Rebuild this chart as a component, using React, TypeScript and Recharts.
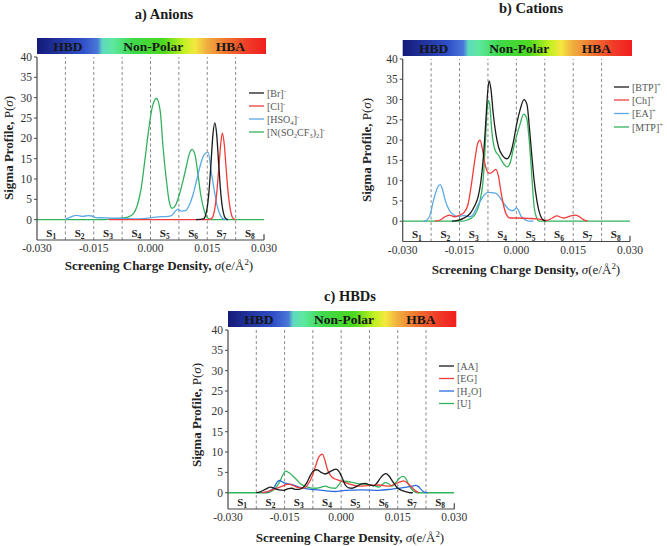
import React from 'react';
import { LineChart, Line, XAxis, YAxis, ReferenceLine, ReferenceArea } from 'recharts';

type Pt = [number, number];
type Seg = { t: string; s?: 'sub' | 'sup'; i?: boolean; w?: 'normal' | 'bold' };

// sigma (e/Å²), P(sigma) pairs

// a) anions
const anionBr: Pt[] = [
  [0.012, 0], [0.014, 0.2], [0.0145, 0.9], [0.015, 3], [0.0155, 7.4], [0.016, 14], [0.0165, 20.9],
  [0.017, 23.8], [0.0175, 20.9], [0.018, 14], [0.0185, 7.4], [0.019, 3], [0.0195, 0.9], [0.02, 0.2], [0.0205, 0],
];
const anionCl: Pt[] = [
  [-0.011, 0], [0.0155, 0], [0.016, 0.2], [0.0165, 0.8], [0.017, 2.7], [0.0175, 6.5], [0.018, 12], [0.0185, 18],
  [0.019, 21.3], [0.0195, 18.5], [0.02, 12.5], [0.0205, 6.8], [0.021, 3], [0.0215, 0.9], [0.022, 0.2], [0.0225, 0],
];
const anionHSO4: Pt[] = [
  [-0.0225, 0], [-0.021, 0.7], [-0.0195, 1.05], [-0.018, 0.8], [-0.0165, 1.0], [-0.0155, 0.9], [-0.0145, 0.5],
  [-0.012, 0.45], [-0.009, 0.35], [-0.006, 0.25], [-0.003, 0.2], [0, 0.45], [0.002, 0.7], [0.004, 0.75],
  [0.0055, 1.0], [0.0065, 2.0], [0.0073, 2.6], [0.0082, 2.1], [0.0092, 2.2], [0.0102, 3.5], [0.0112, 6],
  [0.0122, 9.7], [0.0132, 13.5], [0.0142, 16], [0.0152, 16.6], [0.0161, 11.5], [0.0168, 7.5], [0.0176, 3.5],
  [0.0185, 1], [0.0195, 0.1], [0.0205, 0],
];
const anionTf2N: Pt[] = [
  [-0.03, 0], [-0.012, 0], [-0.0105, 0.2], [-0.008, 0.35], [-0.006, 0.6], [-0.0045, 1.5], [-0.0035, 3.5],
  [-0.0025, 7.5], [-0.0015, 14.5], [-0.0005, 22], [0.0005, 27.8], [0.0016, 29.8], [0.0026, 26.5], [0.0033, 18],
  [0.0042, 9.7], [0.005, 4.2], [0.0057, 2.8], [0.0066, 3.5], [0.0077, 6.4], [0.0087, 10], [0.0095, 13.2],
  [0.0103, 16.3], [0.011, 17.3], [0.0118, 15.8], [0.0125, 11.5], [0.0133, 6], [0.0142, 2.2], [0.015, 0.5],
  [0.016, 0], [0.03, 0],
];

// b) cations
const cationBTP: Pt[] = [
  [-0.017, 0], [-0.0155, 0.2], [-0.014, 0.7], [-0.0122, 1.9], [-0.011, 3.8], [-0.0101, 6], [-0.0094, 9.5],
  [-0.0087, 15.8], [-0.0081, 24], [-0.0076, 31.5], [-0.0072, 34.6], [-0.0067, 32.5], [-0.0061, 26.5],
  [-0.0054, 21.5], [-0.0047, 18.3], [-0.0036, 16.1], [-0.0025, 15.4], [-0.0015, 16.8], [-0.0008, 19.5],
  [0.0001, 24], [0.001, 27.5], [0.002, 30], [0.0028, 28.8], [0.0035, 22.5], [0.0041, 16], [0.0047, 10],
  [0.0054, 5.2], [0.0063, 1.5], [0.0071, 0.3], [0.0078, 0],
];
const cationCh: Pt[] = [
  [-0.0215, 0], [-0.0201, 0.3], [-0.019, 1.0], [-0.0177, 1.5], [-0.0163, 1.1], [-0.015, 1.5], [-0.0138, 2.2],
  [-0.0128, 4], [-0.0118, 9.5], [-0.0109, 15.5], [-0.0102, 19.2], [-0.0096, 20], [-0.009, 18], [-0.0083, 14.2],
  [-0.0075, 12], [-0.0069, 11.8], [-0.0061, 12.3], [-0.0054, 12.8], [-0.0047, 11], [-0.0041, 7.5],
  [-0.0034, 4], [-0.0027, 1.8], [-0.0017, 0.8], [0, 0.8], [0.003, 0.7], [0.0055, 0.6], [0.008, 0.2],
  [0.0095, 0.8], [0.0107, 1.3], [0.0124, 0.8], [0.014, 1.2], [0.0155, 1.5], [0.0165, 1.2], [0.0177, 0.4],
  [0.0188, 0],
];
const cationEA: Pt[] = [
  [-0.0245, 0], [-0.0236, 0.3], [-0.0228, 1.5], [-0.0219, 5], [-0.0208, 8.3], [-0.0201, 9], [-0.0194, 7.5],
  [-0.0188, 5.2], [-0.0181, 3.5], [-0.0175, 2.4], [-0.0165, 1.6], [-0.0157, 1.2], [-0.015, 1.2], [-0.014, 1.4],
  [-0.0131, 1.2], [-0.0122, 1.1], [-0.0113, 1.8], [-0.0104, 3.5], [-0.0095, 5], [-0.0087, 6.2], [-0.0074, 7.1],
  [-0.0056, 6.9], [-0.0046, 6.2], [-0.0039, 5.2], [-0.003, 4], [-0.0021, 3], [-0.0012, 2.6], [-0.0005, 2.8],
  [0, 3.3], [0.0006, 2.6], [0.0012, 1.3], [0.0023, 0.4], [0.0035, 0], [0.0045, 0],
];
const cationMTP: Pt[] = [
  [-0.03, 0], [-0.0145, 0], [-0.013, 0.3], [-0.0113, 1.2], [-0.0103, 2.8], [-0.0096, 5], [-0.0087, 11],
  [-0.0082, 19], [-0.0078, 26.5], [-0.0074, 29.8], [-0.007, 28.5], [-0.0065, 22.4], [-0.0056, 17.5],
  [-0.0047, 16.3], [-0.0038, 14.8], [-0.0024, 13.4], [-0.0015, 14.8], [-0.0008, 17.8], [0.001, 24],
  [0.0019, 26.4], [0.0027, 25.5], [0.0033, 21], [0.0038, 15], [0.0042, 9.5], [0.0047, 3.5], [0.0054, 0.7],
  [0.006, 0], [0.03, 0],
];

// c) HBDs
const hbdAA: Pt[] = [
  [-0.0225, 0], [-0.0215, 0.2], [-0.02, 0.9], [-0.0187, 1.4], [-0.0175, 1.0], [-0.0165, 0.7], [-0.0152, 0.6],
  [-0.014, 1.0], [-0.013, 1.1], [-0.0121, 0.8], [-0.0108, 0.9], [-0.0099, 1.5], [-0.009, 2.6], [-0.0082, 4.2],
  [-0.0073, 5.4], [-0.0064, 5.65], [-0.0053, 5.0], [-0.0042, 4.6], [-0.0027, 5.3], [-0.0013, 5.8],
  [-0.0005, 5.1], [0.0003, 3.6], [0.0011, 1.9], [0.002, 1.2], [0.0029, 1.1], [0.004, 1.5], [0.0052, 2.1],
  [0.0064, 2.3], [0.0076, 1.9], [0.0086, 1.7], [0.0095, 2.4], [0.0104, 3.6], [0.0112, 4.4], [0.0119, 4.7],
  [0.0127, 4.1], [0.0135, 3.0], [0.0148, 1.3], [0.016, 0.6], [0.017, 0.3], [0.0182, 0], [0.019, 0],
];
const hbdEG: Pt[] = [
  [-0.021, 0], [-0.0195, 0.3], [-0.0174, 1.0], [-0.0156, 1.6], [-0.0139, 2.1], [-0.0128, 1.8], [-0.0115, 1.3],
  [-0.0099, 1.1], [-0.009, 1.8], [-0.0081, 3.2], [-0.0074, 4.8], [-0.0068, 6.5], [-0.0059, 8.8], [-0.005, 9.5],
  [-0.0043, 8.0], [-0.0037, 5.9], [-0.003, 4.5], [-0.0024, 3.8], [-0.0011, 3.2], [0.0002, 2.8], [0.002, 2.2],
  [0.0047, 1.6], [0.0073, 1.8], [0.01, 1.9], [0.0126, 1.6], [0.0144, 2.2], [0.0158, 2.7], [0.0166, 2.9],
  [0.0175, 2.4], [0.0188, 1.3], [0.0198, 0.4], [0.0207, 0],
];
const hbdH2O: Pt[] = [
  [-0.0205, 0], [-0.0192, 0.3], [-0.0178, 1.3], [-0.0168, 2.8], [-0.0163, 3.0], [-0.0155, 2.6], [-0.0147, 2.3],
  [-0.013, 2.0], [-0.0112, 1.4], [-0.0086, 0.9], [-0.005, 0.6], [-0.0015, 0.3], [0.0011, 0.6], [0.0056, 0.7],
  [0.01, 0.6], [0.0135, 0.9], [0.017, 1.3], [0.0188, 1.6], [0.0197, 1.8], [0.0205, 1.5], [0.0214, 0.6],
  [0.0222, 0.1], [0.023, 0],
];
const hbdU: Pt[] = [
  [-0.03, 0], [-0.0195, 0], [-0.0182, 0.5], [-0.0172, 1.4], [-0.0163, 2.7], [-0.0155, 4.3], [-0.0147, 5.3],
  [-0.0138, 4.9], [-0.013, 4.3], [-0.0118, 3.2], [-0.0108, 2.2], [-0.009, 1.4], [-0.0068, 1.1], [-0.0052, 1.4],
  [-0.0042, 1.6], [-0.0028, 1.2], [-0.0015, 1.1], [-0.0006, 2.0], [0.0003, 2.9], [0.002, 2.7], [0.0047, 2.2],
  [0.0073, 2.0], [0.0092, 1.6], [0.01, 1.4], [0.0109, 2.0], [0.0117, 2.5], [0.0126, 2.2], [0.0135, 1.6],
  [0.0145, 2.5], [0.0155, 3.6], [0.0164, 4.0], [0.0172, 3.4], [0.0179, 2.0], [0.0188, 0.8], [0.0195, 0.2],
  [0.0203, 0], [0.03, 0],
];

const sigmaTicks = [-0.03, -0.015, 0, 0.015, 0.03];
const regionBounds = [-0.03, -0.0225, -0.015, -0.0075, 0, 0.0075, 0.015, 0.0225, 0.03];
const pTicks = [0, 5, 10, 15, 20, 25, 30, 35, 40];
const barLabels = ['HBD', 'Non-Polar', 'HBA'];

const SERIF = '"Liberation Serif", "DejaVu Serif", serif';
const AXIS = '#474747';
const BLACK = '#1c1c1c';
const RED = '#f23c3c';
const LIGHTBLUE = '#5aa9e6';
const BLUE = '#2a6de0';
const GREEN = '#33b25c';
const Y_W = 30;

const gradStops: [number, string][] = [
  [0, '#141a78'], [0.2, '#3050c8'], [0.265, '#4a78d8'], [0.285, '#5fd8c0'], [0.33, '#5ee8a0'],
  [0.42, '#3ed84a'], [0.55, '#4cd820'], [0.64, '#c0f020'], [0.69, '#f5e840'], [0.74, '#f0b040'],
  [0.82, '#f07830'], [0.92, '#f03c28'], [1, '#f01e1e'],
];

interface RichProps {
  x: number; y: number; segs: Seg[]; size: number;
  anchor?: 'start' | 'middle' | 'end'; fill?: string; weight?: 'normal' | 'bold'; transform?: string;
}

const Rich: React.FC<RichProps> = ({ x, y, segs, size, anchor = 'start', fill = '#222', weight = 'normal', transform }) => {
  let prev = 0;
  return (
    <text x={x} y={y} fontSize={size} textAnchor={anchor} fill={fill} fontWeight={weight} fontFamily={SERIF} transform={transform}>
      {segs.map((g, k) => {
        const off = g.s === 'sub' ? size * 0.25 : g.s === 'sup' ? -size * 0.4 : 0;
        const dy = off - prev;
        prev = off;
        return (
          <tspan key={k} dy={dy} fontSize={g.s ? size * 0.68 : size} fontStyle={g.i ? 'italic' : undefined} fontWeight={g.w}>
            {g.t}
          </tspan>
        );
      })}
    </text>
  );
};

interface Series { name: Seg[]; color: string; pts: Pt[] }

interface PanelProps {
  id: string;
  left: number; top: number; width: number; height: number;
  margin: { top: number; right: number; bottom: number; left: number };
  yMin: number;
  title: string; titleX: number; titleY: number;
  series: Series[]; order: number[];
  legendX: number; legendRows: number[];
  yLabelX: number; yLabelY: number; xLabelX: number; xLabelY: number;
}

const xTitle: Seg[] = [
  { t: 'Screening Charge Density, ' }, { t: 'σ', i: true, w: 'normal' }, { t: '(e/Å', w: 'normal' },
  { t: '2', s: 'sup', w: 'normal' }, { t: ')', w: 'normal' },
];
const yTitle: Seg[] = [{ t: 'Sigma Profile, ' }, { t: 'P(', w: 'normal' }, { t: 'σ', i: true, w: 'normal' }, { t: ')', w: 'normal' }];

const Panel: React.FC<PanelProps> = (p) => {
  const plotLeft = p.margin.left + Y_W;
  const plotRight = p.width - p.margin.right;
  const barX = plotLeft;
  const barW = plotRight - plotLeft + 2;
  const barY = p.margin.top - 19;
  const barPos = [0.135, 0.508, 0.845];

  const sLabel = (n: number) => (props: any) => {
    const vb = props.viewBox || {};
    return (
      <Rich
        x={vb.x + vb.width / 2}
        y={vb.y + vb.height - 3.5}
        size={11}
        anchor="middle"
        weight="bold"
        fill="#222"
        segs={[{ t: 'S' }, { t: String(n), s: 'sub' }]}
      />
    );
  };

  return (
    <div style={{ position: 'absolute', left: p.left, top: p.top, width: p.width, height: p.height }}>
      <LineChart width={p.width} height={p.height} margin={p.margin}>
        <XAxis
          type="number"
          dataKey="x"
          domain={[-0.03, 0.03]}
          ticks={sigmaTicks}
          tickFormatter={(v: number) => v.toFixed(3)}
          height={20}
          tickLine={false}
          tickSize={4}
          tickMargin={0}
          axisLine={{ stroke: AXIS, strokeWidth: 1.2 }}
          tick={{ fontSize: 11.5, fill: '#333', fontFamily: SERIF }}
          allowDataOverflow
        />
        <YAxis
          type="number"
          domain={[p.yMin, 40]}
          ticks={pTicks}
          width={Y_W}
          tickSize={3}
          tickMargin={2}
          tickLine={{ stroke: AXIS }}
          axisLine={{ stroke: AXIS, strokeWidth: 1.2 }}
          tick={{ fontSize: 11.5, fill: '#333', fontFamily: SERIF }}
          allowDataOverflow
        />
        {regionBounds.slice(1, -1).map((b) => (
          <ReferenceLine key={b} x={b} stroke="#8a8a8a" strokeDasharray="3 2.5" strokeWidth={1} />
        ))}
        <ReferenceLine segment={[{ x: 0.03, y: p.yMin }, { x: 0.03, y: p.yMin + 1.4 }]} stroke={AXIS} strokeWidth={1.2} />
        {regionBounds.slice(0, -1).map((b, i) => (
          <ReferenceArea
            key={`s${i}`}
            x1={b}
            x2={regionBounds[i + 1]}
            y1={p.yMin}
            y2={0}
            fill="none"
            fillOpacity={0}
            stroke="none"
            label={sLabel(i + 1)}
          />
        ))}
        {p.order.map((k) => (
          <Line
            key={k}
            data={p.series[k].pts.map(([x, y]) => ({ x, y }))}
            dataKey="y"
            type="monotone"
            stroke={p.series[k].color}
            strokeWidth={1.3}
            dot={false}
            activeDot={false}
            isAnimationActive={false}
          />
        ))}
      </LineChart>
      <svg
        width={p.width}
        height={p.height}
        style={{ position: 'absolute', left: 0, top: 0, pointerEvents: 'none' }}
      >
        <defs>
          <linearGradient id={p.id} x1="0" x2="1" y1="0" y2="0">
            {gradStops.map(([o, c]) => (
              <stop key={o} offset={o} stopColor={c} />
            ))}
          </linearGradient>
        </defs>
        <text x={p.titleX} y={p.titleY} textAnchor="middle" fontFamily={SERIF} fontWeight="bold" fontSize={14.5} fill="#1a1a1a">
          {p.title}
        </text>
        <rect x={barX} y={barY} width={barW} height={16} fill={`url(#${p.id})`} />
        {barLabels.map((t, i) => (
          <text
            key={t}
            x={barX + barPos[i] * barW}
            y={barY + 12.5}
            textAnchor="middle"
            fontFamily={SERIF}
            fontWeight="bold"
            fontSize={13.5}
            fill="#161616"
          >
            {t}
          </text>
        ))}
        <Rich
          x={p.yLabelX}
          y={p.yLabelY}
          size={13}
          anchor="middle"
          weight="bold"
          fill="#222"
          segs={yTitle}
          transform={`rotate(-90 ${p.yLabelX} ${p.yLabelY})`}
        />
        <Rich x={p.xLabelX} y={p.xLabelY} size={13} anchor="middle" weight="bold" fill="#222" segs={xTitle} />
        {p.series.map((s, i) => (
          <g key={i}>
            <line x1={p.legendX} x2={p.legendX + 15} y1={p.legendRows[i]} y2={p.legendRows[i]} stroke={s.color} strokeWidth={1.3} />
            <Rich x={p.legendX + 18} y={p.legendRows[i] + 3.5} size={10} fill="#555" segs={s.name} />
          </g>
        ))}
      </svg>
    </div>
  );
};

const anionSeries: Series[] = [
  { name: [{ t: '[Br]' }, { t: '-', s: 'sup' }], color: BLACK, pts: anionBr },
  { name: [{ t: '[Cl]' }, { t: '-', s: 'sup' }], color: RED, pts: anionCl },
  { name: [{ t: '[HSO' }, { t: '4', s: 'sub' }, { t: ']' }, { t: '-', s: 'sup' }], color: LIGHTBLUE, pts: anionHSO4 },
  {
    name: [{ t: '[N(SO' }, { t: '2', s: 'sub' }, { t: 'CF' }, { t: '3', s: 'sub' }, { t: ')' }, { t: '2', s: 'sub' }, { t: ']' }, { t: '-', s: 'sup' }],
    color: GREEN,
    pts: anionTf2N,
  },
];

const cationSeries: Series[] = [
  { name: [{ t: '[BTP]' }, { t: '+', s: 'sup' }], color: BLACK, pts: cationBTP },
  { name: [{ t: '[Ch]' }, { t: '+', s: 'sup' }], color: RED, pts: cationCh },
  { name: [{ t: '[EA]' }, { t: '+', s: 'sup' }], color: LIGHTBLUE, pts: cationEA },
  { name: [{ t: '[MTP]' }, { t: '+', s: 'sup' }], color: GREEN, pts: cationMTP },
];

const hbdSeries: Series[] = [
  { name: [{ t: '[AA]' }], color: BLACK, pts: hbdAA },
  { name: [{ t: '[EG]' }], color: RED, pts: hbdEG },
  { name: [{ t: '[H' }, { t: '2', s: 'sub' }, { t: 'O]' }], color: BLUE, pts: hbdH2O },
  { name: [{ t: '[U]' }], color: GREEN, pts: hbdU },
];

export default function App() {
  return (
    <div style={{ position: 'absolute', left: 0, top: 0, width: 667, height: 546, background: '#fff', overflow: 'hidden' }}>
      <Panel
        id="gradA"
        left={0}
        top={0}
        width={334}
        height={280}
        margin={{ top: 57, right: 70, bottom: 20, left: 7 }}
        yMin={-5}
        title="a) Anions"
        titleX={164}
        titleY={19}
        series={anionSeries}
        order={[3, 2, 1, 0]}
        legendX={249}
        legendRows={[93, 106, 119, 132]}
        yLabelX={13}
        yLabelY={148}
        xLabelX={159}
        xLabelY={270}
      />
      <Panel
        id="gradB"
        left={334}
        top={0}
        width={333}
        height={280}
        margin={{ top: 59, right: 37, bottom: 18.5, left: 38.7 }}
        yMin={-5}
        title="b) Cations"
        titleX={197}
        titleY={13}
        series={cationSeries}
        order={[3, 2, 1, 0]}
        legendX={280}
        legendRows={[87, 100, 113.5, 127]}
        yLabelX={37}
        yLabelY={150}
        xLabelX={192}
        xLabelY={274}
      />
      <Panel
        id="gradC"
        left={190}
        top={270}
        width={300}
        height={276}
        margin={{ top: 60, right: 35.7, bottom: 17, left: 8 }}
        yMin={-4}
        title="c) HBDs"
        titleX={160}
        titleY={31}
        series={hbdSeries}
        order={[3, 2, 1, 0]}
        legendX={249}
        legendRows={[96, 108.5, 121, 133.5]}
        yLabelX={11}
        yLabelY={145}
        xLabelX={160}
        xLabelY={272}
      />
    </div>
  );
}
